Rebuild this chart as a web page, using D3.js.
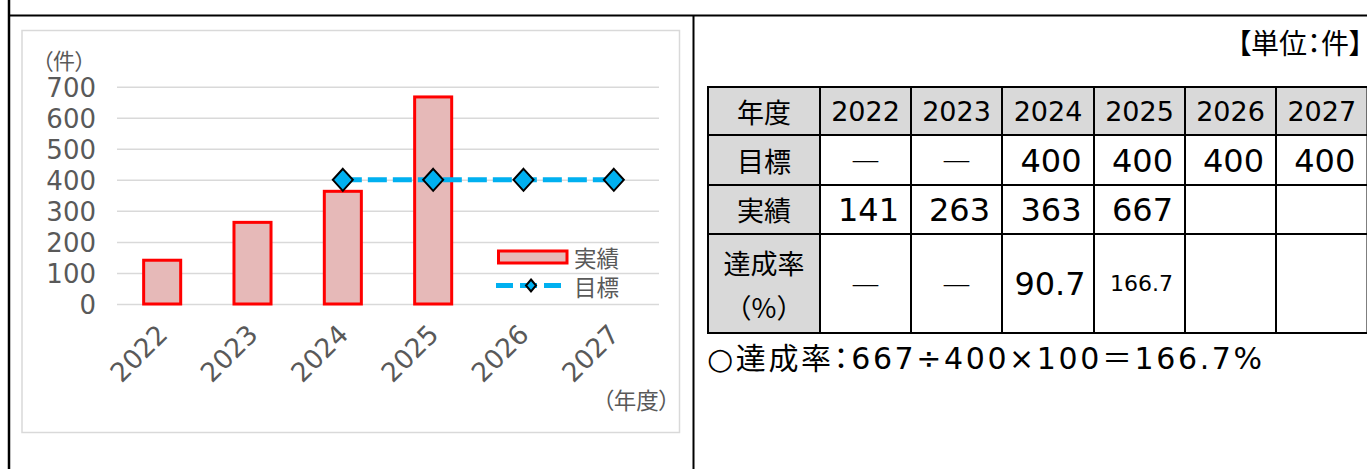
<!DOCTYPE html>
<html><head><meta charset="utf-8">
<script src="https://cdn.jsdelivr.net/npm/d3@7"></script>
<style>
html,body{margin:0;padding:0;background:#fff;}
svg{display:block;}
.cjk{font-family:"Noto Sans CJK JP","Noto Sans",sans-serif;}
.num{font-family:"DejaVu Sans","Noto Sans CJK JP",sans-serif;}
.palt{font-feature-settings:"palt";}
</style>
</head><body>
<svg id="c" width="1367" height="469"></svg>
<script>
// ---- data ----
const years = ["2022","2023","2024","2025","2026","2027"];
const actual = [141, 263, 363, 667, null, null];
const target = [null, null, 400, 400, 400, 400];
const rate = [null, null, 90.7, 166.7, null, null];
const yTicks = [0,100,200,300,400,500,600,700];
const seriesNames = ["実績","目標"];
const rowLabels = ["年度","目標","実績"];
const rateLabel = ["達成率","（%）"];
const yUnit = "（件）";
const xUnit = "（年度）";
const tableUnit = "【単位：件】";

const svg = d3.select("#c");
const GREY = "#595959";

// ---- outer frame ----
svg.append("line").attr("x1",9).attr("x2",9).attr("y1",0).attr("y2",469).attr("stroke","#000").attr("stroke-width",2.5);
svg.append("line").attr("x1",9).attr("x2",1367).attr("y1",15.5).attr("y2",15.5).attr("stroke","#000").attr("stroke-width",2);
svg.append("line").attr("x1",693.5).attr("x2",693.5).attr("y1",15).attr("y2",469).attr("stroke","#000").attr("stroke-width",2);

// ---- chart area ----
svg.append("rect").attr("x",22).attr("y",30.5).attr("width",657.5).attr("height",402)
  .attr("fill","#fff").attr("stroke","#D9D9D9").attr("stroke-width",1.5);

const x = d3.scaleBand().domain(years).range([117,659]).paddingInner(0.59).paddingOuter(0.295);
const y = d3.scaleLinear().domain([0,700]).range([304,86.7]);
const cx = d => x(d) + x.bandwidth()/2;

// y axis + gridlines
const ya = svg.append("g").attr("transform","translate(117,0)")
  .call(d3.axisLeft(y).tickValues(yTicks).tickSize(-(659-117)).tickPadding(21).tickFormat(d3.format("d")));
ya.select(".domain").remove();
ya.selectAll(".tick line").attr("stroke","#D9D9D9").attr("stroke-width",1.5);
ya.selectAll(".tick text").attr("class","num").attr("fill",GREY).attr("font-size",26).attr("dy","0.36em");

// x axis labels
const xa = svg.append("g").attr("transform","translate(0,304)")
  .call(d3.axisBottom(x).tickSize(0));
xa.select(".domain").remove();
xa.selectAll(".tick text").attr("class","num").attr("fill",GREY).attr("font-size",26.5)
  .attr("x",0).attr("y",0).attr("dy",0)
  .attr("text-anchor","end")
  .attr("transform","translate(7,32) rotate(-45)");

// bars
svg.append("g").selectAll("rect").data(years.map((d,i)=>({d,v:actual[i]})).filter(o=>o.v!=null))
  .join("rect")
  .attr("x",o=>x(o.d)).attr("width",x.bandwidth())
  .attr("y",o=>y(o.v)).attr("height",o=>y(0)-y(o.v))
  .attr("fill","#E6B9B8").attr("stroke","#FF0000").attr("stroke-width",3);

// target line
const tData = years.map((d,i)=>({d,v:target[i]})).filter(o=>o.v!=null);
svg.append("path").datum(tData)
  .attr("d", d3.line().x(o=>cx(o.d)).y(o=>y(o.v)))
  .attr("fill","none").attr("stroke","#00B0F0").attr("stroke-width",5).attr("stroke-dasharray","19,6");
const diamond = "M0,-11L10,0L0,11L-10,0Z";
svg.append("g").selectAll("path").data(tData).join("path")
  .attr("d",diamond).attr("transform",o=>`translate(${cx(o.d)},${y(o.v)})`)
  .attr("fill","#00B0F0").attr("stroke","#000").attr("stroke-width",2);

// legend
svg.append("rect").attr("x",498.5).attr("y",251).attr("width",68.5).attr("height",12)
  .attr("fill","#E6B9B8").attr("stroke","#FF0000").attr("stroke-width",3);
svg.append("text").attr("class","cjk").attr("x",574).attr("y",257).attr("dominant-baseline","central")
  .attr("font-size",22.5).attr("fill",GREY).text(seriesNames[0]);
svg.append("line").attr("x1",496).attr("x2",562).attr("y1",285.5).attr("y2",285.5)
  .attr("stroke","#00B0F0").attr("stroke-width",5).attr("stroke-dasharray","17,7");
svg.append("path").attr("d","M0,-6L5,0L0,6L-5,0Z").attr("transform","translate(531,285.5)")
  .attr("fill","#00B0F0").attr("stroke","#000").attr("stroke-width",2);
svg.append("text").attr("class","cjk").attr("x",574).attr("y",286).attr("dominant-baseline","central")
  .attr("font-size",22.5).attr("fill",GREY).text(seriesNames[1]);

// axis units
svg.append("text").attr("class","cjk palt").attr("x",42).attr("y",59).attr("dominant-baseline","central")
  .attr("font-size",22).attr("fill",GREY).text(yUnit);
svg.append("text").attr("class","cjk palt").attr("x",670).attr("y",399).attr("dominant-baseline","central")
  .attr("text-anchor","end").attr("font-size",22.5).attr("fill",GREY).text(xUnit);

// ---- table ----
svg.append("text").attr("class","cjk palt").attr("x",1363).attr("y",42).attr("dominant-baseline","central")
  .attr("text-anchor","end").attr("font-size",28).attr("fill","#000").text(tableUnit);

const colEdges = [708, 820, 911, 1002, 1094, 1185, 1276, 1367.5];
const rowEdges = [87, 135, 185, 234, 333];
const T = svg.append("g");
// grey fills
T.append("rect").attr("x",colEdges[0]).attr("y",rowEdges[0]).attr("width",colEdges[1]-colEdges[0]).attr("height",rowEdges[4]-rowEdges[0]).attr("fill","#D9D9D9");
T.append("rect").attr("x",colEdges[1]).attr("y",rowEdges[0]).attr("width",colEdges[7]-colEdges[1]).attr("height",rowEdges[1]-rowEdges[0]).attr("fill","#D9D9D9");
// grid lines
rowEdges.forEach(r=>T.append("line").attr("x1",colEdges[0]-1).attr("x2",1367).attr("y1",r).attr("y2",r).attr("stroke","#000").attr("stroke-width",2));
colEdges.forEach(c=>T.append("line").attr("x1",c).attr("x2",c).attr("y1",rowEdges[0]).attr("y2",rowEdges[4]).attr("stroke","#000").attr("stroke-width",2));

const colC = i => (colEdges[i+1]+colEdges[i+2])/2;
const rowC = j => (rowEdges[j]+rowEdges[j+1])/2;
function cjkText(tx,ty,s,size){
  return T.append("text").attr("class","cjk").attr("x",tx).attr("y",ty).attr("dominant-baseline","central")
   .attr("text-anchor","middle").attr("font-size",size).attr("fill","#000").text(s);
}
function numText(tx,ty,s,size){
  return T.append("text").attr("class","num").attr("x",tx).attr("y",ty).attr("dy","0.36em")
   .attr("text-anchor","middle").attr("font-size",size).attr("fill","#000").text(s);
}
const headC = (colEdges[0]+colEdges[1])/2;
rowLabels.forEach((s,j)=>cjkText(headC,rowC(j),s,27));
cjkText(headC,262,rateLabel[0],27);
cjkText(headC,306,rateLabel[1],27);
years.forEach((yr,i)=>{
  numText(colC(i),rowC(0),yr,27);
  if(target[i]==null) cjkText(colC(i),rowC(1),"―",30);
  else numText(colC(i)+3,rowC(1),String(target[i]),32);
  if(actual[i]!=null) numText(colC(i)+3,rowC(2),String(actual[i]),32);
  if(target[i]==null) cjkText(colC(i),rowC(3),"―",30);
  else if(rate[i]!=null) numText(colC(i)+2,rowC(3), d3.format(".1f")(rate[i]), rate[i]>=100?22:32);
});

// formula line
svg.append("text").attr("class","num palt").attr("x",707).attr("y",358).attr("dy","0.36em")
  .attr("font-size",30).attr("fill","#000")
  .attr("textLength",555).attr("lengthAdjust","spacing")
  .text(`○達成率：${actual[3]}÷${target[3]}×100＝${d3.format(".1f")(rate[3])}%`);
</script>
</body></html>
